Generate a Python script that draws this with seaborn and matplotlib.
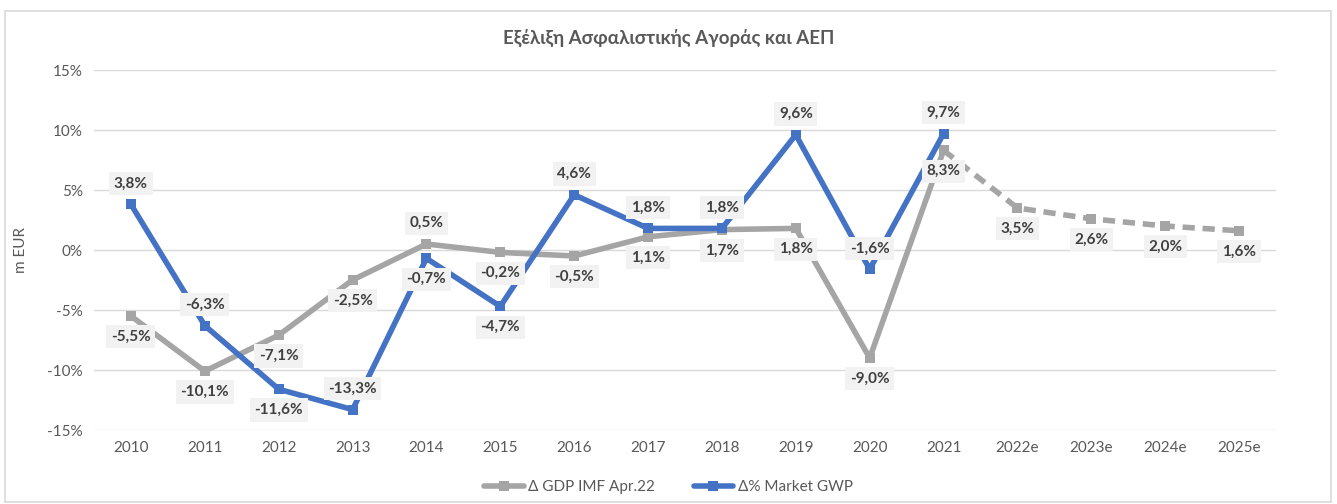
import matplotlib
matplotlib.use("Agg")
import matplotlib.pyplot as plt
from matplotlib.lines import Line2D
from matplotlib.patches import Rectangle
import seaborn as sns
import pandas as pd
import numpy as np

years = ["2010", "2011", "2012", "2013", "2014", "2015", "2016", "2017",
         "2018", "2019", "2020", "2021", "2022e", "2023e", "2024e", "2025e"]
gdp = [-5.5, -10.1, -7.1, -2.5, 0.5, -0.2, -0.5, 1.1, 1.7, 1.8, -9.0, 8.3,
       3.5, 2.6, 2.0, 1.6]
market = [3.8, -6.3, -11.6, -13.3, -0.7, -4.7, 4.6, 1.8, 1.8, 9.6, -1.6, 9.7]
gdp_label_side = ["below"] * 16
gdp_label_side[4] = "above"
market_label_side = ["above"] * 12
for i in (2, 4, 5):
    market_label_side[i] = "below"

title = "Εξέλιξη Ασφαλιστικής Αγοράς και ΑΕΠ"
ylabel = "m EUR"
gdp_name = "Δ GDP IMF Apr.22"
market_name = "Δ% Market GWP"

sns.set_theme(style="white")
plt.rcParams["font.family"] = ["Lato", "DejaVu Sans"]

GRAY = "#a5a5a5"
BLUE = "#4472c4"
LW = 4.0
MS = 7

n_actual = 12
x_all = np.arange(len(years))
df_gdp_act = pd.DataFrame({"x": x_all[:n_actual], "v": gdp[:n_actual]})
df_gdp_fc = pd.DataFrame({"x": x_all[n_actual - 1:], "v": gdp[n_actual - 1:]})
df_mkt = pd.DataFrame({"x": x_all[:len(market)], "v": market})

fig = plt.figure(figsize=(13.37, 5.04), dpi=100)
ax = fig.add_axes([94 / 1337, 1 - 430 / 504, (1276 - 94) / 1337, 360 / 504])

# border of the chart area
fig.patches.append(Rectangle((5 / 1337, 2 / 504), 1326 / 1337, 491 / 504,
                             transform=fig.transFigure, fill=False,
                             edgecolor="#d9d9d9", linewidth=1.2))

sns.lineplot(data=df_gdp_act, x="x", y="v", ax=ax, color=GRAY, linewidth=LW,
             marker="s", markersize=MS, markeredgewidth=0, zorder=3)
sns.lineplot(data=df_gdp_fc, x="x", y="v", ax=ax, color=GRAY, linewidth=LW,
             linestyle=(0, (2.2, 1.4)), marker="s", markersize=MS,
             markeredgewidth=0, zorder=3)
sns.lineplot(data=df_mkt, x="x", y="v", ax=ax, color=BLUE, linewidth=LW,
             marker="s", markersize=MS, markeredgewidth=0, zorder=4)

def fmt(v):
    return f"{v:.1f}%".replace(".", ",")

box = dict(boxstyle="square,pad=0.3", facecolor="#f2f2f2", edgecolor="none")
for i, v in enumerate(gdp):
    dy = 15 if gdp_label_side[i] == "above" else -15
    ax.annotate(fmt(v), (i, v), xytext=(0, dy), textcoords="offset points",
                ha="center", va="center", fontsize=11, fontweight="bold",
                color="#404040", bbox=box, zorder=6)
for i, v in enumerate(market):
    dy = 15 if market_label_side[i] == "above" else -15
    ax.annotate(fmt(v), (i, v), xytext=(0, dy), textcoords="offset points",
                ha="center", va="center", fontsize=11, fontweight="bold",
                color="#404040", bbox=box, zorder=6)

ax.set_xlim(-0.5, len(years) - 0.5)
ax.set_ylim(-15, 15)
ax.set_xticks(x_all)
ax.set_xticklabels(years)
yt = [-15, -10, -5, 0, 5, 10, 15]
ax.set_yticks(yt)
ax.set_yticklabels([f"{t}%" for t in yt])
ax.tick_params(axis="both", labelsize=11, colors="#595959", length=0, pad=8)
ax.yaxis.grid(True, color="#d9d9d9", linewidth=1)
ax.set_axisbelow(True)
for s in ax.spines.values():
    s.set_visible(False)
ax.set_xlabel("")
ax.set_ylabel(ylabel, fontsize=11, color="#595959", labelpad=14)

fig.text(0.5, 1 - 38 / 504, title, ha="center", va="center", fontsize=13.5,
         fontweight="bold", color="#595959")

handles = [
    Line2D([], [], color=GRAY, linewidth=LW, marker="s", markersize=MS,
           markeredgewidth=0),
    Line2D([], [], color=BLUE, linewidth=LW, marker="s", markersize=MS,
           markeredgewidth=0),
]
fig.legend(handles, [gdp_name, market_name], loc="center",
           bbox_to_anchor=(0.5, 1 - 487 / 504), ncol=2, frameon=False,
           fontsize=11, handlelength=2.6, handletextpad=0.3,
           columnspacing=2.5, labelcolor="#595959")

fig.savefig("out.png", dpi=100)
